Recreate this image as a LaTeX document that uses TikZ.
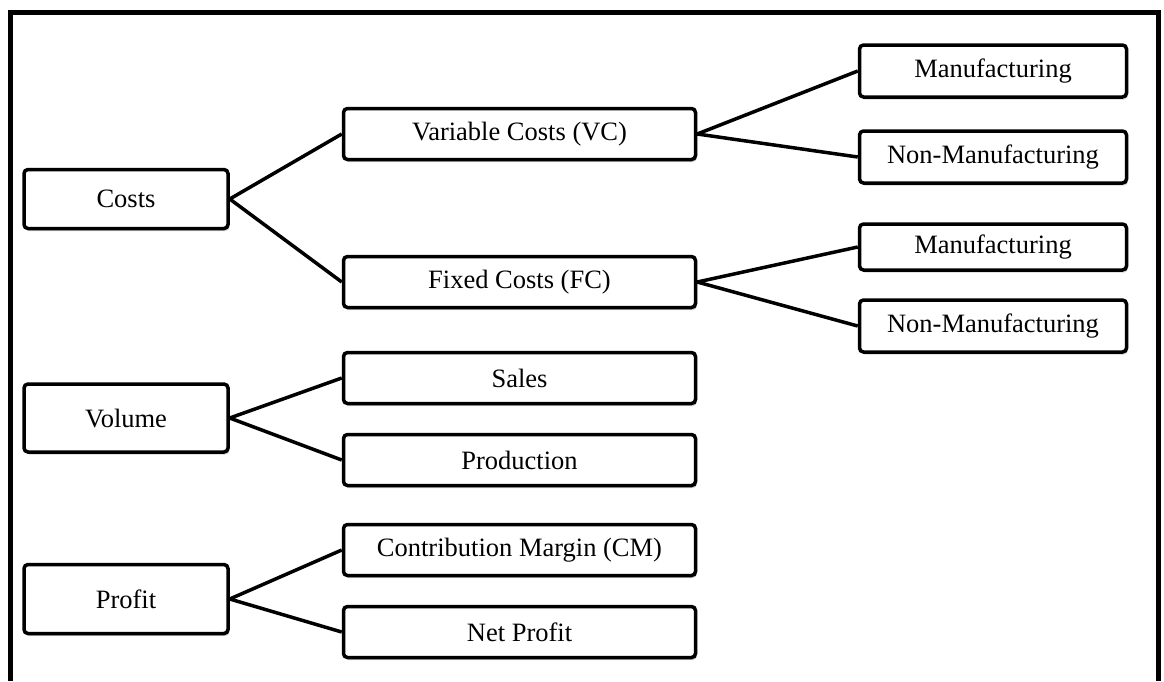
\documentclass[tikz,border=0pt]{standalone}
\usepackage{fontspec}
\setmainfont{Liberation Serif}
\usetikzlibrary{shadows}
\begin{document}
\begin{tikzpicture}[x=1pt,y=-1pt,
  box/.style={draw=black, line width=3.5pt, rounded corners=4pt, fill=white,
    inner sep=0pt, font=\fontsize{26.5}{30}\selectfont,
    drop shadow={shadow xshift=1.5pt, shadow yshift=-2.5pt, opacity=0.35, fill=gray}},
  leftbox/.style={box, minimum width=204pt},
  midbox/.style={box, minimum width=352pt, minimum height=51pt},
  rightbox/.style={box, minimum width=267pt, minimum height=52pt},
  link/.style={draw=black, line width=3.5pt},
  frame/.style={draw=black, line width=5pt}]
\useasboundingbox (0,0) rectangle (1164,681);
\fill[white] (0,0) rectangle (1164,681);
\draw[frame] (10.5,681) -- (10.5,12) -- (1158,12) -- (1158,681);

\node[leftbox, minimum height=59pt] (costs) at (126,199) {Costs};
\node[leftbox, minimum height=68pt] (volume) at (126,418) {Volume};
\node[leftbox, minimum height=69pt] (profit) at (126,599) {Profit};

\node[midbox] (vc) at (519.5,134) {Variable Costs (VC)};
\node[midbox] (fc) at (519.5,282) {Fixed Costs (FC)};
\node[midbox] (sales) at (519.5,378) {Sales};
\node[midbox] (prod) at (519.5,460) {Production};
\node[midbox] (cm) at (519.5,550) {Contribution Margin (CM)};
\node[midbox] (np) at (519.5,632) {Net Profit};

\node[rightbox] (m1) at (993,71) {Manufacturing};
\node[rightbox] (n1) at (993,157) {Non-Manufacturing};
\node[rightbox, minimum height=46pt] (m2) at (993,247) {Manufacturing};
\node[rightbox] (n2) at (993,326) {Non-Manufacturing};

\draw[link] (costs.east) -- (vc.west);
\draw[link] (costs.east) -- (fc.west);
\draw[link] (volume.east) -- (sales.west);
\draw[link] (volume.east) -- (prod.west);
\draw[link] (profit.east) -- (cm.west);
\draw[link] (profit.east) -- (np.west);
\draw[link] (vc.east) -- (m1.west);
\draw[link] (vc.east) -- (n1.west);
\draw[link] (fc.east) -- (m2.west);
\draw[link] (fc.east) -- (n2.west);
\end{tikzpicture}
\end{document}
